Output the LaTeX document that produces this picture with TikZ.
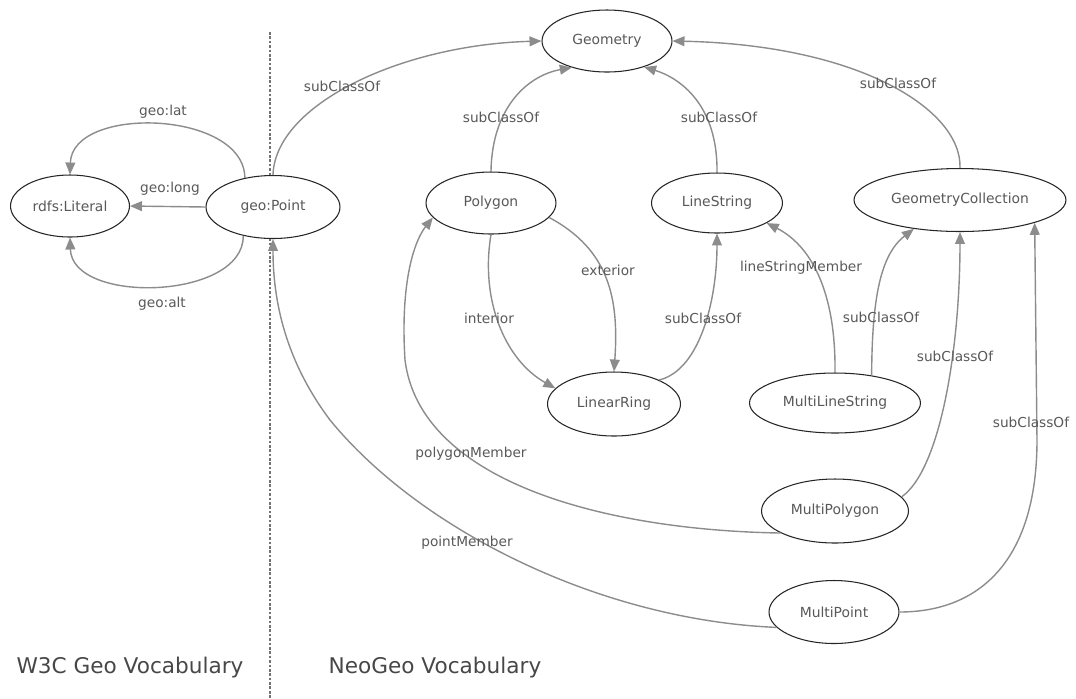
\documentclass[tikz,border=0pt]{standalone}
\usepackage{fontspec}
\setmainfont{DejaVu Sans}
\usetikzlibrary{shapes.geometric, arrows.meta}

\tikzset{
  cls/.style={ellipse, draw=black!85, fill=white, line width=0.6pt, inner sep=0pt, text=black!65, font=\fontsize{7.9}{9}\selectfont},
  rel/.style={draw=black!45, line width=0.8pt, -{Triangle[length=6.8pt,width=5.6pt]}},
  lbl/.style={text=black!65, font=\fontsize{7.8}{9}\selectfont, inner sep=1pt},
  vocab/.style={text=black!72, font=\fontsize{12.3}{14}\selectfont},
}

\begin{document}
\begin{tikzpicture}[x=0.02cm, y=-0.02cm]
     \useasboundingbox (0,0) rectangle (1076,698);
     \draw[black!55, line width=0.6pt, dash pattern=on 1.5pt off 1pt] (270,32) -- (270,698);
     \begin{scope}
      \node[cls, minimum width=2.38cm, minimum height=1.24cm] (lit) at (70,206) {rdfs:Literal};
      \node[cls, minimum width=2.68cm, minimum height=1.26cm] (pt)  at (273,207) {geo:Point};
      \node[vocab] (w3c) at (130,668) {W3C Geo Vocabulary};
      \draw[rel] (pt.134) .. controls (244,110) and (72,105) .. (lit.north)
        node[lbl] at (163,112) {geo:lat};
      \draw[rel] (pt.west) -- (lit.east)
        node[lbl] at (170,189) {geo:long};
      \draw[rel] (pt.224) .. controls (244,300) and (72,305) .. (lit.south)
        node[lbl] at (162,304) {geo:alt};
     \end{scope}
     \begin{scope}
      \node[cls, minimum width=2.6cm, minimum height=1.24cm] (geom) at (607,41) {Geometry};
      \node[cls, minimum width=2.6cm, minimum height=1.24cm] (poly) at (491,203) {Polygon};
      \node[cls, minimum width=2.62cm, minimum height=1.2cm] (ls) at (717,203) {LineString};
      \node[cls, minimum width=4.24cm, minimum height=1.26cm] (gc) at (960,200) {GeometryCollection};
      \node[cls, minimum width=2.66cm, minimum height=1.28cm] (lr) at (614,404) {LinearRing};
      \node[cls, minimum width=3.42cm, minimum height=1.2cm] (mls) at (835,403) {MultiLineString};
      \node[cls, minimum width=2.94cm, minimum height=1.28cm] (mpg) at (835,511) {MultiPolygon};
      \node[cls, minimum width=2.6cm, minimum height=1.26cm] (mpt) at (834,612) {MultiPoint};
      \node[vocab] (neo) at (435,668) {NeoGeo Vocabulary};
      \draw[rel] (pt.north) .. controls (275,105) and (400,45) .. (geom.west)
        node[lbl] at (342,86) {subClassOf};
      \draw[rel] (poly.north) .. controls (492,105) and (530,75) .. (geom.217)
        node[lbl] at (501,117) {subClassOf};
      \draw[rel] (ls.north) .. controls (718,105) and (680,78) .. (geom.-35)
        node[lbl] at (719,117) {subClassOf};
      \draw[rel] (gc.north) .. controls (962,110) and (860,45) .. (geom.east)
        node[lbl] at (898,83) {subClassOf};
      \draw[rel] (poly.south) .. controls (480,300) and (505,360) .. (lr.165)
        node[lbl] at (489,318) {interior};
      \draw[rel] (poly.-14) .. controls (610,250) and (619,300) .. (lr.north)
        node[lbl] at (608,270) {exterior};
      \draw[rel] (lr.28) .. controls (700,370) and (717,300) .. (ls.south)
        node[lbl] at (703,318) {subClassOf};
      \draw[rel] (mls.north) .. controls (836,290) and (810,245) .. (ls.-22)
        node[lbl] at (801,268) {lineStringMember};
      \draw[rel] (mls.37) .. controls (872,300) and (880,255) .. (gc.212)
        node[lbl] at (881,317) {subClassOf};
      \draw[rel] (mpg.12) .. controls (940,470) and (960,350) .. (gc.south)
        node[lbl] at (955,356) {subClassOf};
      \draw[rel] (mpt.east) .. controls (980,612) and (1037,560) .. (1037,440) -- (gc.-17)
        node[lbl] at (1031,422) {subClassOf};
      \draw[rel] (mpg.202) .. controls (600,530) and (420,480) .. (405,360)
        .. controls (400,280) and (415,240) .. (poly.194)
        node[lbl] at (471,454) {polygonMember};
      \draw[rel] (mpt.195) .. controls (600,620) and (420,530) .. (330,420)
        .. controls (285,360) and (273,300) .. (pt.south)
        node[lbl] at (467,543) {pointMember};
     \end{scope}
    \end{tikzpicture}
\end{document}
